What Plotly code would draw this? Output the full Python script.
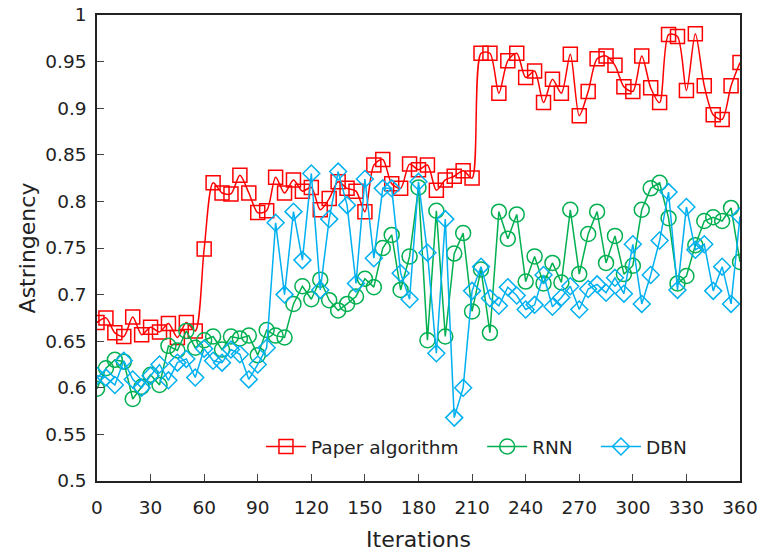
import plotly.graph_objects as go

iterations = list(range(0, 361, 5))

paper_algorithm = [0.670, 0.675, 0.659, 0.655, 0.676, 0.657, 0.665, 0.660, 0.669, 0.654,
                   0.670, 0.661, 0.749, 0.820, 0.809, 0.808, 0.828, 0.809, 0.788, 0.790,
                   0.826, 0.809, 0.823, 0.811, 0.815, 0.791, 0.803, 0.821, 0.814, 0.811,
                   0.789, 0.839, 0.845, 0.819, 0.814, 0.840, 0.834, 0.839, 0.812, 0.823,
                   0.827, 0.833, 0.825, 0.959, 0.959, 0.916, 0.951, 0.959, 0.933, 0.940,
                   0.906, 0.931, 0.916, 0.958, 0.892, 0.918, 0.953, 0.956, 0.946, 0.923,
                   0.918, 0.956, 0.922, 0.906, 0.979, 0.977, 0.919, 0.980, 0.924, 0.893,
                   0.888, 0.924, 0.949]

rnn = [0.599, 0.621, 0.630, 0.628, 0.588, 0.601, 0.614, 0.603, 0.645, 0.640,
       0.661, 0.643, 0.651, 0.655, 0.641, 0.655, 0.653, 0.656, 0.635, 0.662,
       0.656, 0.654, 0.690, 0.709, 0.695, 0.716, 0.694, 0.683, 0.690, 0.698,
       0.717, 0.708, 0.750, 0.764, 0.705, 0.741, 0.815, 0.651, 0.790, 0.655,
       0.744, 0.766, 0.682, 0.727, 0.659, 0.789, 0.760, 0.786, 0.714, 0.741,
       0.712, 0.734, 0.713, 0.791, 0.722, 0.765, 0.789, 0.734, 0.763, 0.722,
       0.731, 0.791, 0.814, 0.820, 0.782, 0.712, 0.720, 0.753, 0.779, 0.783,
       0.779, 0.793, 0.735]

dbn = [0.613, 0.611, 0.603, 0.629, 0.609, 0.600, 0.613, 0.625, 0.608, 0.627,
       0.631, 0.611, 0.642, 0.629, 0.627, 0.641, 0.636, 0.609, 0.625, 0.643,
       0.777, 0.700, 0.789, 0.737, 0.830, 0.705, 0.781, 0.832, 0.796, 0.712,
       0.824, 0.739, 0.814, 0.814, 0.723, 0.695, 0.821, 0.745, 0.637, 0.781,
       0.568, 0.600, 0.704, 0.730, 0.696, 0.688, 0.708, 0.699, 0.684, 0.689,
       0.721, 0.687, 0.697, 0.709, 0.684, 0.706, 0.711, 0.702, 0.718, 0.701,
       0.754, 0.690, 0.721, 0.758, 0.810, 0.705, 0.794, 0.748, 0.754, 0.704,
       0.730, 0.690, 0.784]

x_ticks = list(range(0, 361, 30))
y_ticks = [0.5, 0.55, 0.6, 0.65, 0.7, 0.75, 0.8, 0.85, 0.9, 0.95, 1.0]
y_tick_text = ["0.5", "0.55", "0.6", "0.65", "0.7", "0.75", "0.8", "0.85", "0.9", "0.95", "1"]

FONT = "DejaVu Sans"
FS = 18.5

fig = go.Figure()
fig.add_trace(go.Scatter(
    x=iterations, y=paper_algorithm, name="Paper algorithm", mode="lines+markers",
    legend="legend",
    line=dict(color="#FF0000", width=1.5, shape="spline", smoothing=0.8),
    marker=dict(symbol="square-open", size=14, color="#FF0000", line=dict(width=1.5)),
))
fig.add_trace(go.Scatter(
    x=iterations, y=rnn, name="RNN", mode="lines+markers",
    legend="legend2",
    line=dict(color="#00B050", width=1.5),
    marker=dict(symbol="circle-open", size=15, color="#00B050", line=dict(width=1.5)),
))
fig.add_trace(go.Scatter(
    x=iterations, y=dbn, name="DBN", mode="lines+markers",
    legend="legend3",
    line=dict(color="#00B0F0", width=1.5),
    marker=dict(symbol="diamond-open", size=13, color="#00B0F0", line=dict(width=1.5)),
))

legend_common = dict(orientation="h", xanchor="left", y=0.073, yanchor="middle",
                     bgcolor="rgba(0,0,0,0)", font=dict(size=FS), itemwidth=40)

fig.update_layout(
    width=761, height=552,
    margin=dict(l=97, r=21, t=15, b=71, autoexpand=False),
    paper_bgcolor="white", plot_bgcolor="white",
    font=dict(family=FONT, size=FS, color="#222"),
    showlegend=True,
    legend=dict(x=0.255, **legend_common),
    legend2=dict(x=0.599, **legend_common),
    legend3=dict(x=0.776, **legend_common),
    xaxis=dict(range=[0, 360], tickvals=x_ticks, ticks="inside", ticklen=7,
               tickcolor="#444", showline=True, linecolor="#222", linewidth=1.5,
               mirror=True, showgrid=False, zeroline=False, automargin=False,
               ticklabeloverflow="allow", ticklabelstandoff=9,
               title=dict(text="Iterations", standoff=15),
               tickfont=dict(size=FS)),
    yaxis=dict(range=[0.5, 1.0], tickvals=y_ticks, ticktext=y_tick_text,
               ticks="inside", ticklen=7, tickcolor="#444", showline=True,
               linecolor="#222", linewidth=1.5, mirror=True, showgrid=False,
               zeroline=False, automargin=False,
               ticklabeloverflow="allow", ticklabelstandoff=5,
               title=dict(text="Astringency", standoff=4),
               tickfont=dict(size=FS)),
)

fig.write_html("out.html",
               config={"displayModeBar": False},
               post_script="document.body.style.margin='0';document.body.style.overflow='hidden';")
